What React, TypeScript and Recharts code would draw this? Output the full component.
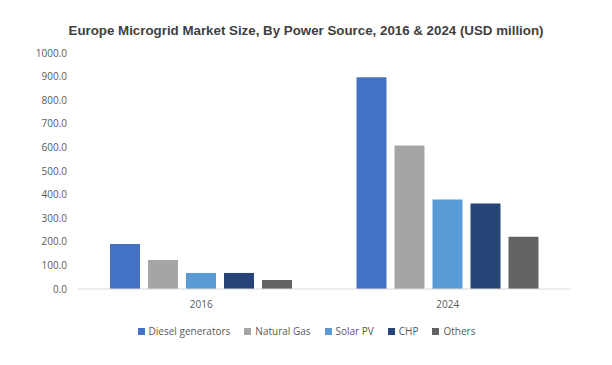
import React from "react";
import {
  BarChart,
  Bar,
  XAxis,
  YAxis,
  Legend,
} from "recharts";

const years = ["2016", "2024"];
const diesel = [191, 897];
const naturalGas = [123, 608];
const solarPV = [68, 379];
const chp = [68, 362];
const others = [38, 221];
const yTicks = [0, 100, 200, 300, 400, 500, 600, 700, 800, 900, 1000];

const seriesList = [
  { key: "diesel", name: "Diesel generators", color: "#4472C4", values: diesel },
  { key: "gas", name: "Natural Gas", color: "#A5A5A5", values: naturalGas },
  { key: "solar", name: "Solar PV", color: "#5B9BD5", values: solarPV },
  { key: "chp", name: "CHP", color: "#264478", values: chp },
  { key: "others", name: "Others", color: "#636363", values: others },
];

const data = years.map((year, i) => {
  const row: any = { year };
  seriesList.forEach((s) => {
    row[s.key] = s.values[i];
  });
  return row;
});

const FONT = "'Open Sans', 'Liberation Sans', sans-serif";

const renderLegend = () => {
  return (
    <div
      style={{
        display: "flex",
        justifyContent: "center",
        gap: 14,
        fontFamily: FONT,
        fontSize: 10,
        lineHeight: "14px",
        color: "#595959",
        paddingLeft: 42,
      }}
    >
      {seriesList.map((s) => (
        <div key={s.key} style={{ display: "flex", alignItems: "center" }}>
          <span
            style={{
              width: 7,
              height: 7,
              backgroundColor: s.color,
              display: "inline-block",
              marginRight: 4,
            }}
          ></span>
          <span>{s.name}</span>
        </div>
      ))}
    </div>
  );
};

const App: React.FC = () => {
  return (
    <div
      style={{
        position: "absolute",
        left: 0,
        top: 0,
        width: 612,
        height: 365,
        background: "#fff",
      }}
    >
      <svg
        width={612}
        height={50}
        style={{ position: "absolute", left: 0, top: 0 }}
      >
        <text
          x={306}
          y={35}
          textAnchor="middle"
          fontFamily="'Liberation Sans', Arial, sans-serif"
          fontWeight="bold"
          fontSize={13}
          fill="#404040"
          textLength={475}
          lengthAdjust="spacingAndGlyphs"
        >
          Europe Microgrid Market Size, By Power Source, 2016 &amp; 2024 (USD million)
        </text>
      </svg>
      <BarChart
        width={612}
        height={365}
        data={data}
        margin={{ top: 53, right: 41, bottom: 42, left: 0 }}
        barGap={8}
        barSize={30}
      >
        <XAxis
          dataKey="year"
          axisLine={{ stroke: "#D9D9D9" }}
          tickLine={false}
          height={20}
          tick={{ fill: "#595959", fontSize: 10, fontFamily: FONT }}
          tickMargin={6}
        />
        <YAxis
          width={78}
          domain={[0, 1000]}
          ticks={yTicks}
          interval={0}
          axisLine={false}
          tickLine={false}
          tickMargin={5}
          tickFormatter={(v: number) => v.toFixed(1)}
          tick={{ fill: "#595959", fontSize: 10, fontFamily: FONT }}
        />
        {seriesList.map((s) => (
          <Bar
            key={s.key}
            dataKey={s.key}
            name={s.name}
            fill={s.color}
            isAnimationActive={false}
          />
        ))}
        <Legend
          verticalAlign="bottom"
          content={renderLegend}
          wrapperStyle={{ bottom: 27 }}
        />
      </BarChart>
    </div>
  );
};

export default App;
